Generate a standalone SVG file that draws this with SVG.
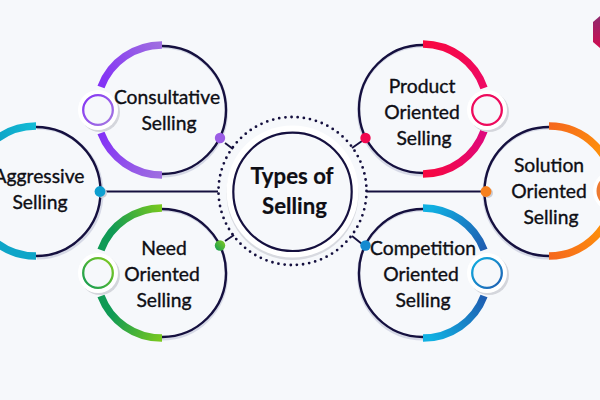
<svg xmlns="http://www.w3.org/2000/svg" width="600" height="400" viewBox="0 0 600 400">
<defs>
<linearGradient id="gP" gradientUnits="userSpaceOnUse" x1="162" y1="44" x2="105" y2="85"><stop offset="0" stop-color="#9f6fe0"/><stop offset="1" stop-color="#8433f5"/></linearGradient>
<linearGradient id="gP2" gradientUnits="userSpaceOnUse" x1="162" y1="175" x2="105" y2="133"><stop offset="0" stop-color="#9f6fe0"/><stop offset="1" stop-color="#8433f5"/></linearGradient>
<linearGradient id="gPk" x1="0" y1="0" x2="1" y2="1"><stop offset="0" stop-color="#8433f5"/><stop offset="1" stop-color="#a57ae0"/></linearGradient>
<linearGradient id="gC" gradientUnits="userSpaceOnUse" x1="0" y1="140" x2="36" y2="127"><stop offset="0" stop-color="#0ea5c8"/><stop offset="1" stop-color="#14bcd6"/></linearGradient>
<linearGradient id="gG" gradientUnits="userSpaceOnUse" x1="115" y1="235" x2="162" y2="209"><stop offset="0" stop-color="#109a55"/><stop offset="1" stop-color="#78c81f"/></linearGradient>
<linearGradient id="gG2" gradientUnits="userSpaceOnUse" x1="115" y1="310" x2="162" y2="337"><stop offset="0" stop-color="#109a55"/><stop offset="1" stop-color="#78c81f"/></linearGradient>
<linearGradient id="gR" gradientUnits="userSpaceOnUse" x1="423" y1="45" x2="487" y2="90"><stop offset="0" stop-color="#f8083f"/><stop offset="1" stop-color="#ee0a66"/></linearGradient>
<linearGradient id="gR2" gradientUnits="userSpaceOnUse" x1="423" y1="175" x2="487" y2="130"><stop offset="0" stop-color="#f8083f"/><stop offset="1" stop-color="#dd0880"/></linearGradient>
<linearGradient id="gO" gradientUnits="userSpaceOnUse" x1="549" y1="127" x2="600" y2="165"><stop offset="0" stop-color="#f5681e"/><stop offset="1" stop-color="#ff9408"/></linearGradient>
<linearGradient id="gO2" gradientUnits="userSpaceOnUse" x1="549" y1="256" x2="600" y2="215"><stop offset="0" stop-color="#f5681e"/><stop offset="1" stop-color="#ff9408"/></linearGradient>
<linearGradient id="gB" gradientUnits="userSpaceOnUse" x1="430" y1="209" x2="484" y2="250"><stop offset="0" stop-color="#10b0e2"/><stop offset="1" stop-color="#1f5cb0"/></linearGradient>
<linearGradient id="gB2" gradientUnits="userSpaceOnUse" x1="430" y1="337" x2="484" y2="295"><stop offset="0" stop-color="#10b0e2"/><stop offset="1" stop-color="#1f5cb0"/></linearGradient>
<linearGradient id="gBk" x1="0" y1="0" x2="1" y2="1"><stop offset="0" stop-color="#10b0e2"/><stop offset="1" stop-color="#1f5cb0"/></linearGradient>
<linearGradient id="gD" x1="0" y1="1" x2="1" y2="0"><stop offset="0" stop-color="#109a55"/><stop offset="1" stop-color="#84cc1f"/></linearGradient>
<linearGradient id="gH" x1="0" y1="0" x2="0" y2="1"><stop offset="0" stop-color="#8f2a6e"/><stop offset="1" stop-color="#d00c50"/></linearGradient>
</defs>
<style>
.ring{fill:none;stroke:#15103f;stroke-width:2.4}
.sh{fill:none;stroke:#d6d9e6;stroke-width:3}
.arc{fill:none;stroke-width:7.5}
.halo{fill:#fff}
.hsh{fill:#d4d6dc}
.knob{fill:#f6f8fb;stroke-width:2.300}
.ln{stroke:#15103f;stroke-width:1.900;fill:none}
text{font-family:Lato,"Liberation Sans",sans-serif;font-size:19.300px;font-weight:400;fill:#0e0e14;stroke:#0e0e14;stroke-width:.35;text-anchor:middle}
.big{font-size:22.200px;font-weight:700;stroke-width:.2}
</style>
<rect width="600" height="400" fill="#f6f8fb"/>
<polygon points="593,22 600,16 600,48 593,42" fill="url(#gH)"/>
<g id="connectors">
<path class="ln" d="M105 191.500H218M367 191.500H482M225 143L233 149M352 148L362 141M225 241L234 235M352 236L362 244"/>
</g>
<g id="centre">
<circle cx="292.500" cy="194" r="66" fill="#d8dae0"/>
<circle cx="292.500" cy="191.500" r="66" fill="#fff"/>
<circle cx="292.500" cy="191.800" r="59.200" fill="#f6f8fb" stroke="#15103f" stroke-width="2.200"/>
<circle cx="292.500" cy="191" r="74" fill="none" stroke="#15103f" stroke-width="2.800" stroke-linecap="round" stroke-dasharray="0 6.200"/>
<text class="big" x="292" y="183.500">Types of</text>
<text class="big" x="294.500" y="213.500">Selling</text>
</g>
<g id="consultative">
<path class="sh" d="M162 47A64 64 0 1 1 162 176"/>
<path class="ring" d="M162 46A64 64 0 1 1 162 174"/>
<path class="arc" stroke="url(#gP)" d="M162 45A65 65 0 0 0 101 87"/>
<path class="arc" stroke="url(#gP2)" d="M101 133A65 65 0 0 0 162 175"/>
<circle class="hsh" cx="100" cy="112" r="20"/><circle class="halo" cx="98" cy="110" r="20"/>
<circle class="knob" stroke="url(#gPk)" cx="98" cy="110" r="14.800"/>
<circle cx="220" cy="138" r="5.200" fill="#9b5de5"/>
<text x="167" y="104">Consultative</text><text x="169" y="130">Selling</text>
</g>
<g id="aggressive">
<path class="sh" d="M37 128A64 64 0 0 1 37 258"/>
<path class="ring" d="M36 127A64.500 64.500 0 0 1 36 256"/>
<path class="arc" stroke="url(#gC)" d="M36 126A65 65 0 0 0 36 256"/>
<circle cx="102" cy="193" r="5" fill="#ccced6"/><circle cx="100" cy="191.500" r="5.400" fill="#0d9fd0"/>
<text x="39" y="183">Aggressive</text><text x="40" y="209">Selling</text>
</g>
<g id="need">
<path class="sh" d="M162 210A64 64 0 1 1 162 339"/>
<path class="ring" d="M162 209A64 64 0 1 1 162 337"/>
<path class="arc" stroke="url(#gG)" d="M162 208A65 65 0 0 0 101 250"/>
<path class="arc" stroke="url(#gG2)" d="M101 296A65 65 0 0 0 162 338"/>
<circle class="hsh" cx="100" cy="275" r="20"/><circle class="halo" cx="98" cy="273" r="20"/>
<circle class="knob" stroke="url(#gD)" cx="98" cy="273" r="14.800"/>
<circle cx="220" cy="245.500" r="5.200" fill="url(#gD)"/>
<text x="164" y="255">Need</text><text x="162" y="281">Oriented</text><text x="164" y="307">Selling</text>
</g>
<g id="product">
<path class="sh" d="M423 46A64 64 0 1 0 423 175"/>
<path class="ring" d="M423 45A64 64 0 1 0 423 173"/>
<path class="arc" stroke="url(#gR)" d="M423 44A65 65 0 0 1 484 88"/>
<path class="arc" stroke="url(#gR2)" d="M484 131A65 65 0 0 1 423 174"/>
<circle class="hsh" cx="489" cy="112" r="20"/><circle class="halo" cx="487" cy="110" r="20"/>
<circle class="knob" stroke="#ee0a5c" cx="487" cy="110" r="14.800"/>
<circle cx="365.500" cy="138" r="5.200" fill="#f0084f"/>
<text x="422" y="93">Product</text><text x="422" y="119">Oriented</text><text x="424" y="145">Selling</text>
</g>
<g id="solution">
<path class="sh" d="M549 128A64 64 0 1 0 549 258"/>
<path class="ring" d="M549 127A64.500 64.500 0 1 0 549 256"/>
<path class="arc" stroke="url(#gO)" d="M549 126A65 65 0 0 1 614 191"/>
<path class="arc" stroke="url(#gO2)" d="M549 256A65 65 0 0 0 614 191"/>
<circle class="halo" cx="613" cy="191" r="20"/>
<circle class="knob" stroke="#ee7a30" style="stroke-width:4" cx="613" cy="191" r="14.500"/>
<circle cx="488" cy="193" r="5" fill="#ccced6"/><circle cx="486" cy="191.500" r="5.400" fill="#f7801e"/>
<text x="549" y="172">Solution</text><text x="549" y="197.500">Oriented</text><text x="551" y="223.500">Selling</text>
</g>
<g id="competition">
<path class="sh" d="M423 210A64 64 0 1 0 423 339"/>
<path class="ring" d="M423 209A64 64 0 1 0 423 337"/>
<path class="arc" stroke="url(#gB)" d="M423 208A65 65 0 0 1 484 250"/>
<path class="arc" stroke="url(#gB2)" d="M484 296A65 65 0 0 1 423 338"/>
<circle class="hsh" cx="489" cy="275" r="20"/><circle class="halo" cx="487" cy="273" r="20"/>
<circle class="knob" stroke="url(#gBk)" cx="487" cy="273" r="14.800"/>
<circle cx="365.500" cy="245.500" r="5.200" fill="#158ad0"/>
<text x="423" y="255">Competition</text><text x="421" y="281">Oriented</text><text x="423" y="307">Selling</text>
</g>
</svg>
